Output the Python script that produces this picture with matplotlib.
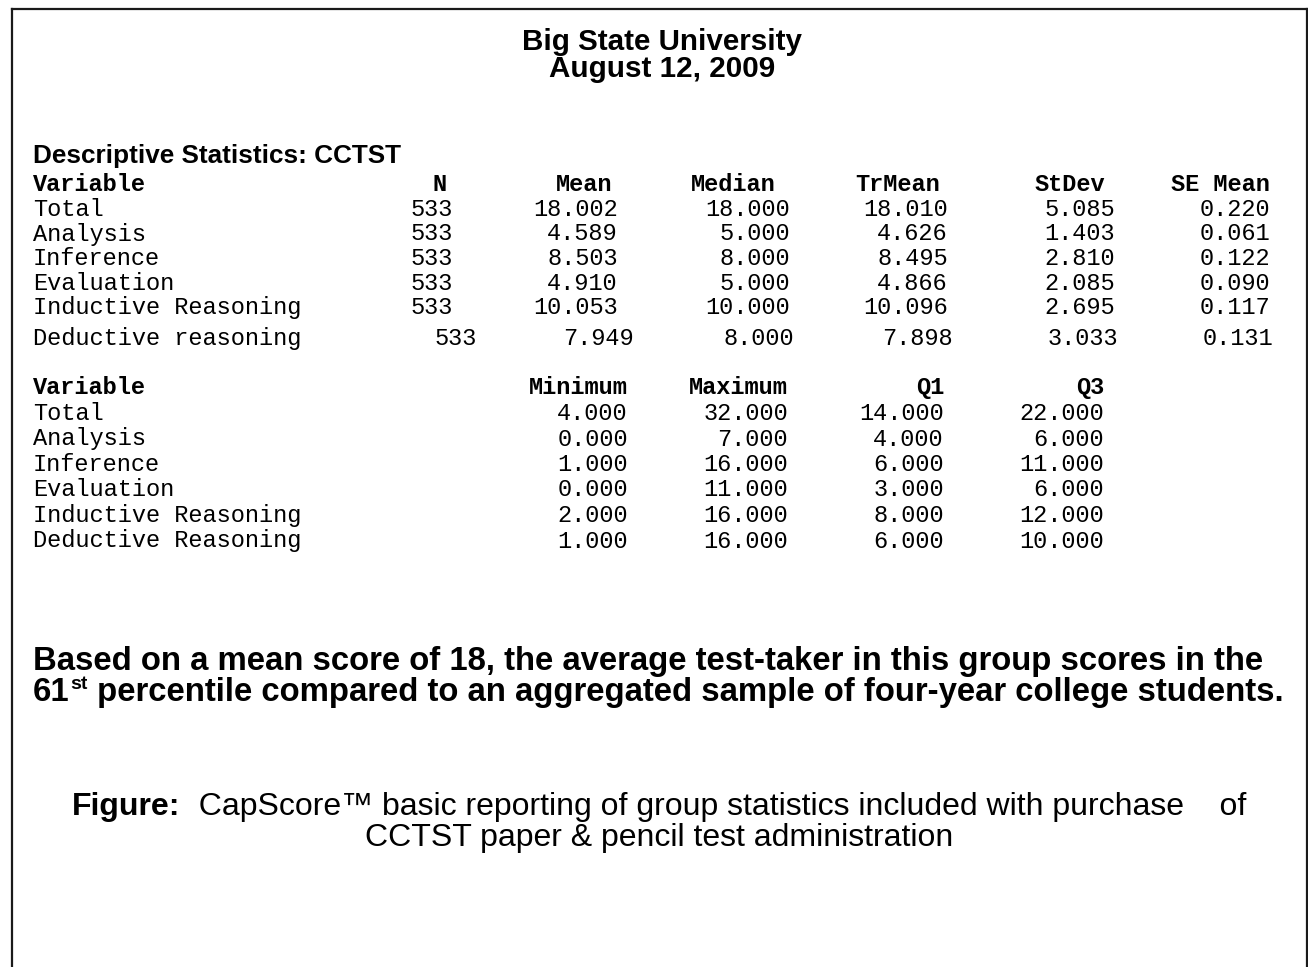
import matplotlib
matplotlib.use("Agg")
import matplotlib.pyplot as plt
from matplotlib.lines import Line2D

# ---------------- data ----------------
title_lines = ["Big State University", "August 12, 2009"]
section_title = "Descriptive Statistics: CCTST"

headers1 = ["Variable", "N", "Mean", "Median", "TrMean", "StDev", "SE Mean"]
variables1 = ["Total", "Analysis", "Inference", "Evaluation",
              "Inductive Reasoning", "Deductive reasoning"]
n_values = [533, 533, 533, 533, 533, 533]
mean_values = [18.002, 4.589, 8.503, 4.910, 10.053, 7.949]
median_values = [18.000, 5.000, 8.000, 5.000, 10.000, 8.000]
trmean_values = [18.010, 4.626, 8.495, 4.866, 10.096, 7.898]
stdev_values = [5.085, 1.403, 2.810, 2.085, 2.695, 3.033]
semean_values = [0.220, 0.061, 0.122, 0.090, 0.117, 0.131]

headers2 = ["Variable", "Minimum", "Maximum", "Q1", "Q3"]
variables2 = ["Total", "Analysis", "Inference", "Evaluation",
              "Inductive Reasoning", "Deductive Reasoning"]
min_values = [4.000, 0.000, 1.000, 0.000, 2.000, 1.000]
max_values = [32.000, 7.000, 16.000, 11.000, 16.000, 16.000]
q1_values = [14.000, 4.000, 6.000, 3.000, 8.000, 6.000]
q3_values = [22.000, 6.000, 11.000, 6.000, 12.000, 10.000]

summary_line1 = "Based on a mean score of 18, the average test-taker in this group scores in the"
summary_pre = "61"
summary_sup = "st"
summary_post = " percentile compared to an aggregated sample of four-year college students."

caption_bold = "Figure:"
caption_rest = "  CapScore\u2122 basic reporting of group statistics included with purchase    of"
caption_line2 = "CCTST paper & pencil test administration"

# ---------------- layout ----------------
W, H = 1308, 967
SANS = "Liberation Sans"
MONO = "Liberation Mono"
MONO_SIZE = 17

fig = plt.figure(figsize=(W / 100, H / 100), dpi=100)
ax = fig.add_axes([0, 0, 1, 1])
ax.set_xlim(0, W)
ax.set_ylim(H, 0)
ax.axis("off")

# frame (no bottom edge)
for xs, ys in [([12, 12], [9, H]), ([12, 1306.5], [9, 9]), ([1306.5, 1306.5], [9, H])]:
    ax.add_line(Line2D(xs, ys, color="#1a1a1a", lw=1.6, solid_capstyle="projecting"))

# titles
for txt, y in zip(title_lines, [50, 77]):
    ax.text(662, y, txt, family=SANS, weight="bold", fontsize=21.3,
            ha="center", va="baseline")

ax.text(33, 163, section_title, family=SANS, weight="bold", fontsize=18.8,
        ha="left", va="baseline")

fmt = lambda v: f"{v:.3f}"

# table 1
t1_left = 33
t1_hdr_right = [447, 612, 776, 940, 1105, 1270]
t1_val_right = [453, 618, 790, 948, 1115, 1270]
t1_last_shift = [24, 16, 4, 5, 3, 3]
t1_hdr_y = 191
t1_row_y = [216, 240.5, 265, 289.5, 314, 345]

ax.text(t1_left, t1_hdr_y, headers1[0], family=MONO, weight="bold",
        fontsize=MONO_SIZE, ha="left", va="baseline")
for h, xr in zip(headers1[1:], t1_hdr_right):
    ax.text(xr, t1_hdr_y, h, family=MONO, weight="bold", fontsize=MONO_SIZE,
            ha="right", va="baseline")

cols1 = [n_values, mean_values, median_values, trmean_values, stdev_values, semean_values]
for i, name in enumerate(variables1):
    y = t1_row_y[i]
    ax.text(t1_left, y, name, family=MONO, fontsize=MONO_SIZE, ha="left", va="baseline")
    for j, col in enumerate(cols1):
        s = str(col[i]) if j == 0 else fmt(col[i])
        xr = t1_val_right[j] + (t1_last_shift[j] if i == len(variables1) - 1 else 0)
        ax.text(xr, y, s, family=MONO, fontsize=MONO_SIZE, ha="right", va="baseline")

# table 2
t2_right = [628, 788, 944, 1104]
t2_hdr_y = 394
t2_row_y = [420, 445.5, 471, 496.5, 522, 547.5]
ax.text(t1_left, t2_hdr_y, headers2[0], family=MONO, weight="bold",
        fontsize=MONO_SIZE, ha="left", va="baseline")
for h, xr in zip(headers2[1:], t2_right):
    ax.text(xr, t2_hdr_y, h, family=MONO, weight="bold", fontsize=MONO_SIZE,
            ha="right", va="baseline")
cols2 = [min_values, max_values, q1_values, q3_values]
for i, name in enumerate(variables2):
    y = t2_row_y[i]
    ax.text(t1_left, y, name, family=MONO, fontsize=MONO_SIZE, ha="left", va="baseline")
    for j, col in enumerate(cols2):
        ax.text(t2_right[j], y, fmt(col[i]), family=MONO, fontsize=MONO_SIZE,
                ha="right", va="baseline")

# summary paragraph
fig.canvas.draw()
renderer = fig.canvas.get_renderer()


def width_of(t):
    return t.get_window_extent(renderer).width


SUM_SIZE = 23.7
ax.text(33, 670, summary_line1, family=SANS, weight="bold", fontsize=SUM_SIZE,
        ha="left", va="baseline")
t = ax.text(33, 701, summary_pre, family=SANS, weight="bold", fontsize=SUM_SIZE,
            ha="left", va="baseline")
x = 33 + width_of(t)
t = ax.text(x + 1, 689, summary_sup, family=SANS, weight="bold", fontsize=14,
            ha="left", va="baseline")
x = x + 1 + width_of(t)
ax.text(x, 701, summary_post, family=SANS, weight="bold", fontsize=SUM_SIZE,
        ha="left", va="baseline")

# caption
CAP_SIZE = 23
tb = ax.text(0, 815, caption_bold, family=SANS, weight="bold", fontsize=CAP_SIZE,
             ha="left", va="baseline")
tr = ax.text(0, 815, caption_rest, family=SANS, fontsize=CAP_SIZE,
             ha="left", va="baseline")
wb, wr = width_of(tb), width_of(tr)
x0 = 659 - (wb + wr) / 2
tb.set_x(x0)
tr.set_x(x0 + wb)
ax.text(659, 846, caption_line2, family=SANS, fontsize=CAP_SIZE,
        ha="center", va="baseline")

fig.savefig("out.png", dpi=100, facecolor="white")
